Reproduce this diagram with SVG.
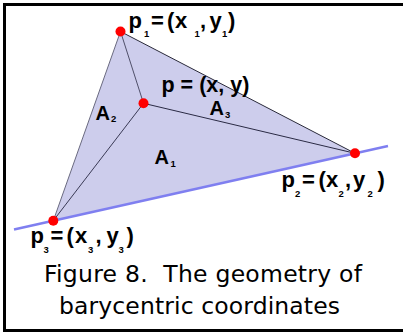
<svg xmlns="http://www.w3.org/2000/svg" width="403" height="332" viewBox="0 0 403 332">
  <style>
    .lbl { font-family: "Liberation Sans", Arial, sans-serif; font-weight: bold; font-size: 22px; fill: #000; }
    .sub { font-size: 9.5px; }
    .area { font-family: "Liberation Sans", Arial, sans-serif; font-weight: bold; font-size: 20px; fill: #000; }
    .cap { font-family: "DejaVu Sans", Verdana, sans-serif; font-size: 23.5px; fill: #000; }
    .dot { fill: #ff0000; }
    .edge { fill: none; stroke-width: 1; }
  </style>
  <rect x="0" y="0" width="403" height="332" fill="#ffffff"/>
  <rect id="frame" x="4.5" y="4.5" width="420" height="326" fill="none" stroke="#000" stroke-width="3"/>

  <g id="triangle">
    <polygon points="120.5,31.5 355,153.3 53.3,220.7" fill="#cdcdec" stroke="none"/>
  </g>

  <g id="connectors">
    <line class="edge" x1="120.5" y1="31.5" x2="53.3" y2="220.7" stroke="#6a6a80"/>
    <line class="edge" x1="120.5" y1="31.5" x2="355" y2="153.3" stroke="#2a2a3a"/>
    <line class="edge" x1="143.5" y1="103.3" x2="120.5" y2="31.5" stroke="#50506a"/>
    <line class="edge" x1="143.5" y1="103.3" x2="355" y2="153.3" stroke="#2a2a44"/>
    <line class="edge" x1="143.5" y1="103.3" x2="53.3" y2="220.7" stroke="#3a3a55"/>
    <line id="base-line" x1="14" y1="229.5" x2="388" y2="146" stroke="#7f7ff0" stroke-width="2.5"/>
  </g>

  <g id="p1">
    <circle class="dot" cx="120.5" cy="31.5" r="5"/>
    <text class="lbl" y="28"><tspan x="128.5">p</tspan><tspan class="sub" x="144" y="37">1</tspan><tspan x="151" y="28">=</tspan><tspan x="167">(</tspan><tspan x="175">x</tspan><tspan class="sub" x="194.5" y="37">1</tspan><tspan x="200" y="28">,</tspan><tspan x="209.5">y</tspan><tspan class="sub" x="222" y="37">1</tspan><tspan x="228" y="28">)</tspan></text>
  </g>

  <g id="p">
    <circle class="dot" cx="143.5" cy="103.3" r="5"/>
    <text class="lbl" x="161.5" y="92" style="font-size:21.5px">p = (x, y)</text>
  </g>

  <g id="p2">
    <circle class="dot" cx="355" cy="153.3" r="5"/>
    <text class="lbl" y="187"><tspan x="281.5">p</tspan><tspan class="sub" x="295" y="197">2</tspan><tspan x="302" y="187">=</tspan><tspan x="318.5">(</tspan><tspan x="326">x</tspan><tspan class="sub" x="338.5" y="197">2</tspan><tspan x="345" y="187">,</tspan><tspan x="353">y</tspan><tspan class="sub" x="367.5" y="197">2</tspan><tspan x="377.5" y="187">)</tspan></text>
  </g>

  <g id="p3">
    <circle class="dot" cx="53.3" cy="220.7" r="5"/>
    <text class="lbl" y="243"><tspan x="30.5">p</tspan><tspan class="sub" x="43.5" y="253">3</tspan><tspan x="50.5" y="243">=</tspan><tspan x="66.5">(</tspan><tspan x="75">x</tspan><tspan class="sub" x="88" y="253">3</tspan><tspan x="95.5" y="243">,</tspan><tspan x="106.5">y</tspan><tspan class="sub" x="118.5" y="253">3</tspan><tspan x="126.5" y="243">)</tspan></text>
  </g>

  <g id="A1">
    <text class="area" y="163.5"><tspan x="154.5">A</tspan><tspan class="sub" x="170.5" y="167">1</tspan></text>
  </g>
  <g id="A2">
    <text class="area" y="120"><tspan x="95.5">A</tspan><tspan class="sub" x="111" y="122">2</tspan></text>
  </g>
  <g id="A3">
    <text class="area" y="115"><tspan x="209.5">A</tspan><tspan class="sub" x="225" y="117.5">3</tspan></text>
  </g>

  <g id="caption">
    <text class="cap" x="44" y="282" textLength="318" lengthAdjust="spacing" xml:space="preserve">Figure 8.  The geometry of</text>
    <text class="cap" x="59" y="314" textLength="281" lengthAdjust="spacing">barycentric coordinates</text>
  </g>
</svg>
